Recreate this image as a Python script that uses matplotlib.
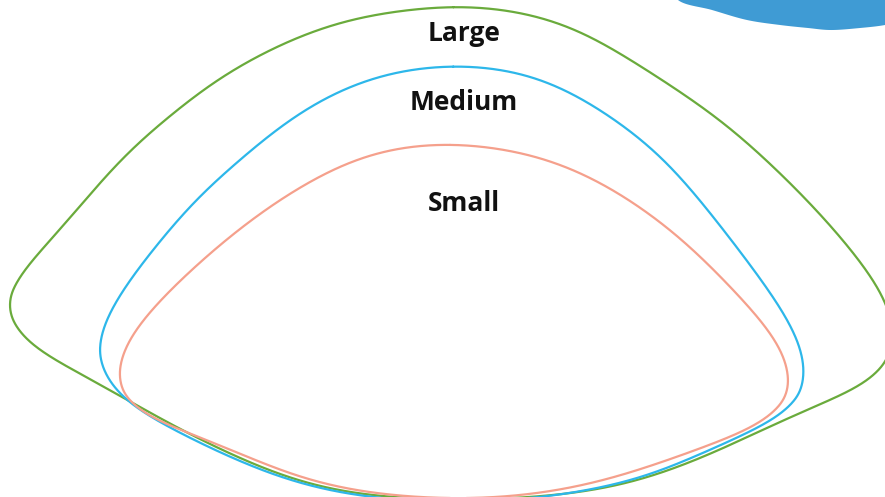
import numpy as np
import matplotlib.pyplot as plt

# -----------------------------------------------------------------------------
# data (outline points in pixel coordinates, y downward)
# -----------------------------------------------------------------------------
labels = ["Large", "Medium", "Small"]
label_base = [41, 110, 211]
colors = ["#6aab3c", "#2db7ea", "#f5a08c"]

large_x = [453, 500, 570, 640, 720, 760, 813, 847, 880, 892, 885, 867, 817, 700, 623, 540, 460, 373, 300, 200, 133, 67, 27, 13, 10, 14, 33, 67, 130, 167, 217, 300, 350, 400]
large_y = [7, 10, 27, 67, 120, 155, 207, 247, 297, 330, 362, 377, 403, 458, 484, 496, 499, 495, 481, 439, 403, 363, 337, 320, 303, 288, 267, 223, 150, 120, 80, 37, 20, 12]

medium_x = [453, 500, 550, 613, 657, 707, 760, 783, 802, 803, 797, 780, 733, 700, 650, 600, 540, 460, 373, 300, 250, 200, 150, 117, 102, 100, 107, 130, 160, 200, 230, 290, 350, 400]
medium_y = [67, 70, 83, 120, 153, 210, 280, 317, 360, 377, 397, 410, 437, 453, 475, 487, 497, 501, 497, 483, 465, 442, 413, 390, 363, 347, 327, 283, 243, 195, 170, 120, 87, 72]

small_x = [450, 540, 590, 640, 690, 740, 767, 783, 788, 782, 765, 700, 583, 460, 317, 200, 160, 127, 120, 122, 133, 163, 230, 297, 370]
small_y = [145, 158, 178, 208, 247, 300, 333, 360, 382, 402, 415, 447, 485, 498, 482, 435, 417, 397, 377, 360, 340, 300, 237, 190, 155]

blob_x = [678, 712, 747, 780, 808, 830, 860, 885, 905, 905, 670]
blob_y = [0, 10, 20, 25, 28, 30, 28, 25, 20, -15, -15]


def catmull_closed(xs, ys, n=40):
    # closed centripetal Catmull-Rom spline, resampled every pixel
    P = np.column_stack([xs, ys]).astype(float)
    m = len(P)
    pts = []
    for i in range(m):
        p0, p1, p2, p3 = P[i - 1], P[i], P[(i + 1) % m], P[(i + 2) % m]
        t0 = 0.0
        t1 = t0 + np.linalg.norm(p1 - p0) ** 0.5
        t2 = t1 + np.linalg.norm(p2 - p1) ** 0.5
        t3 = t2 + np.linalg.norm(p3 - p2) ** 0.5
        t = np.linspace(t1, t2, n, endpoint=False)[:, None]
        a1 = (t1 - t) / (t1 - t0) * p0 + (t - t0) / (t1 - t0) * p1
        a2 = (t2 - t) / (t2 - t1) * p1 + (t - t1) / (t2 - t1) * p2
        a3 = (t3 - t) / (t3 - t2) * p2 + (t - t2) / (t3 - t2) * p3
        b1 = (t2 - t) / (t2 - t0) * a1 + (t - t0) / (t2 - t0) * a2
        b2 = (t3 - t) / (t3 - t1) * a2 + (t - t1) / (t3 - t1) * a3
        pts.append((t2 - t) / (t2 - t1) * b1 + (t - t1) / (t2 - t1) * b2)
    pts = np.vstack(pts)
    closed = np.vstack([pts, pts[:1]])
    d = np.r_[0, np.cumsum(np.linalg.norm(np.diff(closed, axis=0), axis=1))]
    s = np.arange(0, d[-1], 1.0)
    return np.interp(s, d, closed[:, 0]), np.interp(s, d, closed[:, 1])


def gauss_periodic(v, sigma):
    k = np.arange(-int(4 * sigma), int(4 * sigma) + 1)
    w = np.exp(-0.5 * (k / sigma) ** 2)
    w /= w.sum()
    pad = len(k) // 2
    return np.convolve(np.r_[v[-pad:], v, v[:pad]], w, mode="valid")


def smooth_outline(xs, ys, lam=8e5):
    # even out hand-read wobble on the long sides, keep the tight corners
    x, y = catmull_closed(xs, ys)
    gx, gy = gauss_periodic(x, 4), gauss_periodic(y, 4)
    dx = (np.roll(gx, -1) - np.roll(gx, 1)) / 2
    dy = (np.roll(gy, -1) - np.roll(gy, 1)) / 2
    ddx = np.roll(gx, -1) - 2 * gx + np.roll(gx, 1)
    ddy = np.roll(gy, -1) - 2 * gy + np.roll(gy, 1)
    kappa = np.abs(dx * ddy - dy * ddx) / np.maximum(dx ** 2 + dy ** 2, 1e-9) ** 1.5
    kappa = gauss_periodic(kappa, 8)
    w = 1 + 30000 * np.clip(kappa - 0.015, 0, None)
    N = len(x)
    K = np.zeros((N, N))
    idx = np.arange(N)
    for off, c in zip([-2, -1, 0, 1, 2], [1, -4, 6, -4, 1]):
        K[idx, (idx + off) % N] += c
    M = lam * K
    M[idx, idx] += w
    qx = np.linalg.solve(M, w * x)
    qy = np.linalg.solve(M, w * y)
    return np.r_[qx, qx[:1]], np.r_[qy, qy[:1]]


# -----------------------------------------------------------------------------
# plot
# -----------------------------------------------------------------------------
fig = plt.figure(figsize=(8.85, 4.97), dpi=100)
ax = fig.add_axes([0, 0, 1, 1])
ax.set_xlim(0, 885)
ax.set_ylim(497, 0)
ax.axis("off")

bx, by = catmull_closed(blob_x, blob_y)
ax.fill(bx, by, color="#3f9bd4", lw=0)

shapes = [(large_x, large_y), (medium_x, medium_y), (small_x, small_y)]
for (xs, ys), c in zip(shapes, colors):
    sx, sy = smooth_outline(xs, ys)
    ax.plot(sx, sy, color=c, lw=1.6, solid_capstyle="round")

for lab, y in zip(labels, label_base):
    ax.text(464, y, lab, ha="center", va="baseline", fontsize=19,
            fontweight="bold", family="Open Sans", color="#111111")

fig.savefig("out.png", dpi=100)
